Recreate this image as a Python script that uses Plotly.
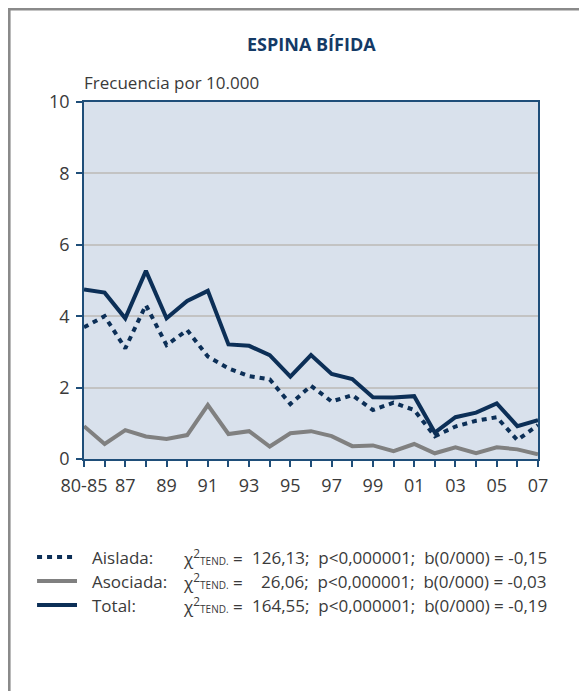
import plotly.graph_objects as go

categories = ["80-85", "86", "87", "88", "89", "90", "91", "92", "93", "94", "95", "96",
              "97", "98", "99", "00", "01", "02", "03", "04", "05", "06", "07"]
aislada = [3.69, 4.00, 3.10, 4.31, 3.19, 3.61, 2.87, 2.54, 2.32, 2.23, 1.54, 2.05,
           1.61, 1.79, 1.37, 1.58, 1.37, 0.64, 0.91, 1.07, 1.17, 0.53, 0.95]
asociada = [0.92, 0.42, 0.81, 0.63, 0.56, 0.67, 1.51, 0.70, 0.78, 0.35, 0.72, 0.78,
            0.64, 0.36, 0.38, 0.22, 0.42, 0.16, 0.33, 0.16, 0.33, 0.27, 0.13]
total = [4.75, 4.66, 3.94, 5.27, 3.94, 4.43, 4.71, 3.21, 3.17, 2.91, 2.31, 2.91,
         2.38, 2.24, 1.73, 1.72, 1.76, 0.74, 1.17, 1.30, 1.56, 0.92, 1.09]
tick_labels = ["80-85", "", "87", "", "89", "", "91", "", "93", "", "95", "",
               "97", "", "99", "", "01", "", "03", "", "05", "", "07"]
y_ticks = [0, 2, 4, 6, 8, 10]

legend_names = ["Aislada:", "Asociada:", "Total:"]
legend_stats = ["126,13;  p<0,000001;  b(0/000) = -0,15",
                "26,06;  p<0,000001;  b(0/000) = -0,03",
                "164,55;  p<0,000001;  b(0/000) = -0,19"]

NAVY = "#0c2f57"
GRAY = "#808080"
TXT = "#3a3a3a"
OFF = 8  # page body margin
W, H = 587 - OFF, 691 - OFF
L, R, T, B = 84 - OFF, 538.5 - OFF, 102 - OFF, 459 - OFF

def px2x(px):
    return (px - OFF - L) / (R - L)

def px2y(py):
    return (B - (py - OFF)) / (B - T)

fig = go.Figure()
fig.add_trace(go.Scatter(x=categories, y=asociada, mode="lines",
                         line=dict(color=GRAY, width=4), showlegend=False))
fig.add_trace(go.Scatter(x=categories, y=aislada, mode="lines",
                         line=dict(color=NAVY, width=4, dash="5px,5px"), showlegend=False))
fig.add_trace(go.Scatter(x=categories, y=total, mode="lines",
                         line=dict(color=NAVY, width=4), showlegend=False))

font = "Open Sans, Noto Sans, sans-serif"

fig.update_layout(
    width=W, height=H,
    margin=dict(l=L, r=W - R, t=T, b=H - B, pad=0),
    paper_bgcolor="white",
    plot_bgcolor="#d9e1ec",
    font=dict(family=font, size=17, color=TXT),
    showlegend=False,
)
fig.update_xaxes(
    type="category", tickmode="array", tickvals=categories, ticktext=tick_labels,
    range=[0, len(categories) - 1],
    showgrid=False, zeroline=False,
    showline=True, linecolor="#1f4e79", linewidth=1.5, mirror=True,
    ticks="outside", ticklen=6, tickwidth=1.5, tickcolor="#1f4e79",
    tickfont=dict(size=18, color=TXT), ticklabelstandoff=4,
)
fig.update_yaxes(
    range=[0, 10], tickvals=y_ticks,
    showgrid=True, gridcolor="#c3c3c3", gridwidth=2, zeroline=False,
    showline=True, linecolor="#1f4e79", linewidth=1.5, mirror=True,
    ticks="outside", ticklen=6, tickwidth=1.5, tickcolor="#1f4e79",
    tickfont=dict(size=18, color=TXT), ticklabelstandoff=3,
)

shapes = []
# outer frame
shapes.append(dict(type="rect", xref="paper", yref="paper",
                   x0=px2x(9), x1=px2x(640), y0=px2y(760), y1=px2y(9),
                   line=dict(color="#8a8a8a", width=3), fillcolor="rgba(0,0,0,0)", layer="below"))
rows_y = [557, 581, 605]
styles = [dict(color=NAVY, width=4, dash="5px,5px"),
          dict(color=GRAY, width=4),
          dict(color=NAVY, width=4)]
for ry, st in zip(rows_y, styles):
    shapes.append(dict(type="line", xref="paper", yref="paper",
                       x0=px2x(37), x1=px2x(77), y0=px2y(ry), y1=px2y(ry), line=st))
fig.update_layout(shapes=shapes)

ann = []
ann.append(dict(text="<b>ESPINA BÍFIDA</b>", x=px2x(312), y=px2y(44), xref="paper", yref="paper",
                xanchor="center", yanchor="middle", showarrow=False,
                font=dict(size=18, color="#143a66")))
ann.append(dict(text="Frecuencia por 10.000", x=px2x(82), y=px2y(82), xref="paper", yref="paper",
                xanchor="left", yanchor="middle", showarrow=False,
                font=dict(size=17, color=TXT)))
for ry, name, stat in zip(rows_y, legend_names, legend_stats):
    ann.append(dict(text=name, x=px2x(90), y=px2y(ry), xref="paper", yref="paper",
                    xanchor="left", yanchor="middle", showarrow=False, font=dict(size=17, color=TXT)))
    ann.append(dict(text="χ<sup>2</sup><span style='font-size:10px'>TEND.</span> =",
                    x=px2x(181), y=px2y(ry), xref="paper", yref="paper",
                    xanchor="left", yanchor="middle", showarrow=False, font=dict(size=17, color=TXT)))
    ann.append(dict(text=stat.replace("  ", "&nbsp;&nbsp;"), x=px2x(550), y=px2y(ry), xref="paper", yref="paper",
                    xanchor="right", yanchor="middle", showarrow=False, font=dict(size=17, color=TXT)))
fig.update_layout(annotations=ann)

fig.write_html("out.html")
